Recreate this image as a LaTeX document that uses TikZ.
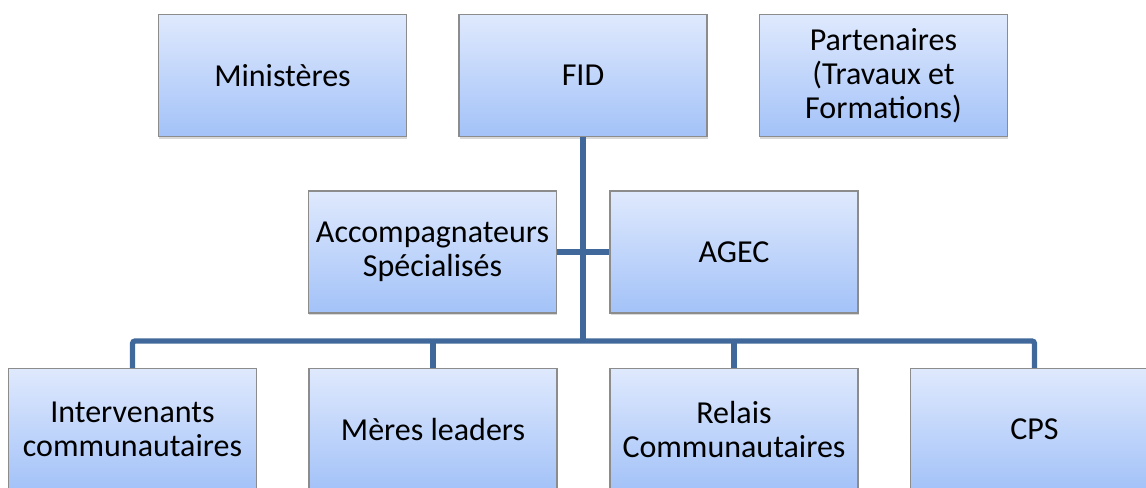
\documentclass[tikz,border=0pt]{standalone}
\usepackage{fontspec}
\setmainfont{Carlito}
\usetikzlibrary{shadows}

\definecolor{boxtop}{RGB}{223,233,253}
\definecolor{boxbottom}{RGB}{163,194,248}
\definecolor{boxedge}{RGB}{140,140,140}
\definecolor{linkblue}{RGB}{65,104,154}

\tikzset{
    orgbox/.style={draw=boxedge, line width=0.8pt, top color=boxtop, bottom color=boxbottom,
        minimum width=186pt, minimum height=91.5pt, inner sep=0pt, align=center,
        font=\fontsize{24}{25.5}\selectfont,
        drop shadow={shadow xshift=0.6pt, shadow yshift=-1.6pt, opacity=0.3}},
    link/.style={draw=linkblue, line width=4pt, rounded corners=2pt}
}

\begin{document}
\begin{tikzpicture}[x=0.75pt, y=-0.75pt]
            \useasboundingbox (0,0) rectangle (1146,488);
            \clip (0,0) rectangle (1146,488);
            % top row
            \node[orgbox] (min) at (282.5,75.5) {Ministères};
            \node[orgbox] (fid) at (583,75.5) {FID};
            \node[orgbox] (par) at (883.5,75.5) {Partenaires\\(Travaux et\\Formations)};
            % middle row
            \node[orgbox] (acc) at (432.5,252) {Accompagnateurs\\Spécialisés};
            \node[orgbox] (agec) at (734,252) {AGEC};
            % bottom row
            \node[orgbox] (int) at (132.5,429.5) {Intervenants\\communautaires};
            \node[orgbox] (mer) at (433,429.5) {Mères leaders};
            \node[orgbox] (rel) at (734,429.5) {Relais\\Communautaires};
            \node[orgbox] (cps) at (1034.5,429.5) {CPS};
            \coordinate (bus) at (583,341);
            % links
            \draw[link] (fid.south) -- (bus);
            \draw[link] (acc.east) -- (agec.west);
            \draw[link] (int.north) |- (bus) -| (cps.north);
            \draw[link] (mer.north) -- (mer.north |- bus);
            \draw[link] (rel.north) -- (rel.north |- bus);
        \end{tikzpicture}
\end{document}
